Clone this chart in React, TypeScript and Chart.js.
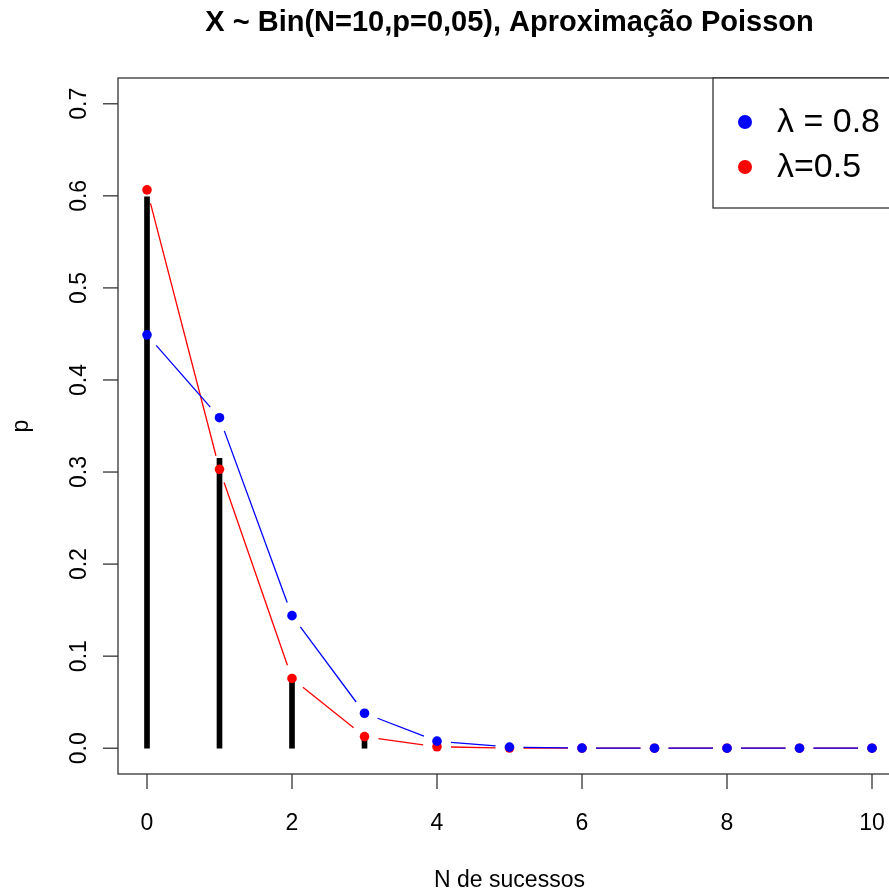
import React, { useEffect, useRef } from "react";
import { Chart, registerables } from "chart.js";

Chart.register(...registerables);

const successes = [0, 1, 2, 3, 4, 5, 6, 7, 8, 9, 10];
const binomialP = [0.599, 0.315, 0.075, 0.0105, 0.001, 0.0001, 0, 0, 0, 0, 0];
const poissonBlue = [0.449, 0.359, 0.144, 0.038, 0.0077, 0.0012, 0.0002, 0, 0, 0, 0];
const poissonRed = [0.6065, 0.303, 0.0758, 0.0126, 0.0016, 0.0002, 0, 0, 0, 0, 0];
const legendLabels = ["λ = 0.8", "λ=0.5"];
const legendColors = ["#0000ff", "#ff0000"];
const xTicks = [0, 2, 4, 6, 8, 10];
const xTickLabels = ["0", "2", "4", "6", "8", "10"];
const yTicks = [0, 0.1, 0.2, 0.3, 0.4, 0.5, 0.6, 0.7];
const yTickLabels = ["0.0", "0.1", "0.2", "0.3", "0.4", "0.5", "0.6", "0.7"];
const titleText = "X ~ Bin(N=10,p=0,05), Aproximação Poisson";
const xTitle = "N de sucessos";
const yTitle = "p";

const FONT = "'Liberation Sans', Arial, sans-serif";
const AXIS_COLOR = "#333333";
const GAP = 14;

const rPlugin = {
  id: "rStyle",
  afterDatasetDraw(chart: any, args: any) {
    const ds: any = chart.data.datasets[args.index];
    if (!ds.gapLine) return;
    const ctx = chart.ctx;
    const pts = args.meta.data;
    ctx.save();
    ctx.strokeStyle = ds.gapLineColor;
    ctx.lineWidth = 1.3;
    for (let i = 0; i < pts.length - 1; i++) {
      const p0 = pts[i];
      const p1 = pts[i + 1];
      const dx = p1.x - p0.x;
      const dy = p1.y - p0.y;
      const len = Math.hypot(dx, dy);
      if (len <= 2 * GAP) continue;
      const ux = dx / len;
      const uy = dy / len;
      ctx.beginPath();
      ctx.moveTo(p0.x + ux * GAP, p0.y + uy * GAP);
      ctx.lineTo(p1.x - ux * GAP, p1.y - uy * GAP);
      ctx.stroke();
    }
    ctx.restore();
  },
  afterDraw(chart: any) {
    const ctx = chart.ctx;
    const a = chart.chartArea;
    const x = chart.scales.x;
    const y = chart.scales.y;
    ctx.save();
    ctx.strokeStyle = AXIS_COLOR;
    ctx.lineWidth = 1.3;
    // box
    ctx.strokeRect(a.left, a.top, a.right - a.left, a.bottom - a.top);

    ctx.fillStyle = "#000";
    // x axis ticks
    ctx.font = `23px ${FONT}`;
    ctx.textAlign = "center";
    ctx.textBaseline = "alphabetic";
    xTicks.forEach((v, i) => {
      const px = x.getPixelForValue(v);
      ctx.beginPath();
      ctx.moveTo(px, a.bottom);
      ctx.lineTo(px, a.bottom + 15);
      ctx.stroke();
      ctx.fillText(xTickLabels[i], px, a.bottom + 56);
    });
    // y axis ticks
    yTicks.forEach((v, i) => {
      const py = y.getPixelForValue(v);
      ctx.beginPath();
      ctx.moveTo(a.left, py);
      ctx.lineTo(a.left - 15, py);
      ctx.stroke();
      ctx.save();
      ctx.translate(a.left - 32, py);
      ctx.rotate(-Math.PI / 2);
      ctx.fillText(yTickLabels[i], 0, 0);
      ctx.restore();
    });
    // axis titles
    const cx = (a.left + a.right) / 2;
    ctx.fillText(xTitle, cx, 887);
    ctx.save();
    ctx.translate(28, (a.top + a.bottom) / 2);
    ctx.rotate(-Math.PI / 2);
    ctx.fillText(yTitle, 0, 0);
    ctx.restore();
    // main title
    ctx.font = `bold 29px ${FONT}`;
    ctx.fillText(titleText, cx, 31);

    // legend
    const lx = 713;
    const lb = 208;
    ctx.fillStyle = "#fff";
    ctx.fillRect(lx, a.top, a.right - lx, lb - a.top);
    ctx.strokeRect(lx, a.top, a.right - lx, lb - a.top);
    ctx.font = `34px ${FONT}`;
    ctx.textAlign = "left";
    ctx.textBaseline = "middle";
    legendLabels.forEach((lab, i) => {
      const ly = 122 + i * 45;
      ctx.fillStyle = legendColors[i];
      ctx.beginPath();
      ctx.arc(745, ly, 7, 0, Math.PI * 2);
      ctx.fill();
      ctx.fillStyle = "#000";
      ctx.fillText(lab, 777, ly + 1);
    });
    ctx.restore();
  },
};

export default function App() {
  const canvasRef = useRef<HTMLCanvasElement | null>(null);

  useEffect(() => {
    const canvas = canvasRef.current;
    if (!canvas) return;
    const chart = new Chart(canvas, {
      type: "bar",
      data: {
        datasets: [
          {
            type: "line",
            label: legendLabels[0],
            data: successes.map((s, i) => ({ x: s, y: poissonBlue[i] })),
            showLine: false,
            pointRadius: 4.8,
            pointBorderWidth: 0,
            pointBackgroundColor: legendColors[0],
            pointBorderColor: legendColors[0],
            order: 0,
            gapLine: true,
            gapLineColor: legendColors[0],
          } as any,
          {
            type: "line",
            label: legendLabels[1],
            data: successes.map((s, i) => ({ x: s, y: poissonRed[i] })),
            showLine: false,
            pointRadius: 4.8,
            pointBorderWidth: 0,
            pointBackgroundColor: legendColors[1],
            pointBorderColor: legendColors[1],
            order: 1,
            gapLine: true,
            gapLineColor: legendColors[1],
          } as any,
          {
            type: "bar",
            label: "Binomial",
            data: successes.map((s, i) => ({ x: s, y: binomialP[i] })),
            backgroundColor: "#000",
            barThickness: 5,
            order: 2,
          } as any,
        ],
      },
      options: {
        animation: false,
        responsive: false,
        devicePixelRatio: 1,
        layout: { padding: { left: 118, top: 78, right: 9, bottom: 117 } },
        plugins: {
          legend: { display: false },
          title: { display: false },
          tooltip: { enabled: false },
        },
        scales: {
          x: { type: "linear", min: -0.4, max: 10.4, offset: false, display: false },
          y: { type: "linear", min: -0.028, max: 0.728, display: false },
        },
      } as any,
      plugins: [rPlugin],
    });
    return () => chart.destroy();
  }, []);

  return (
    <div
      style={{
        position: "fixed",
        left: 0,
        top: 0,
        width: 889,
        height: 891,
        overflow: "hidden",
        background: "#fff",
      }}
    >
      <canvas ref={canvasRef} width={910} height={891} style={{ display: "block" }} />
    </div>
  );
}
